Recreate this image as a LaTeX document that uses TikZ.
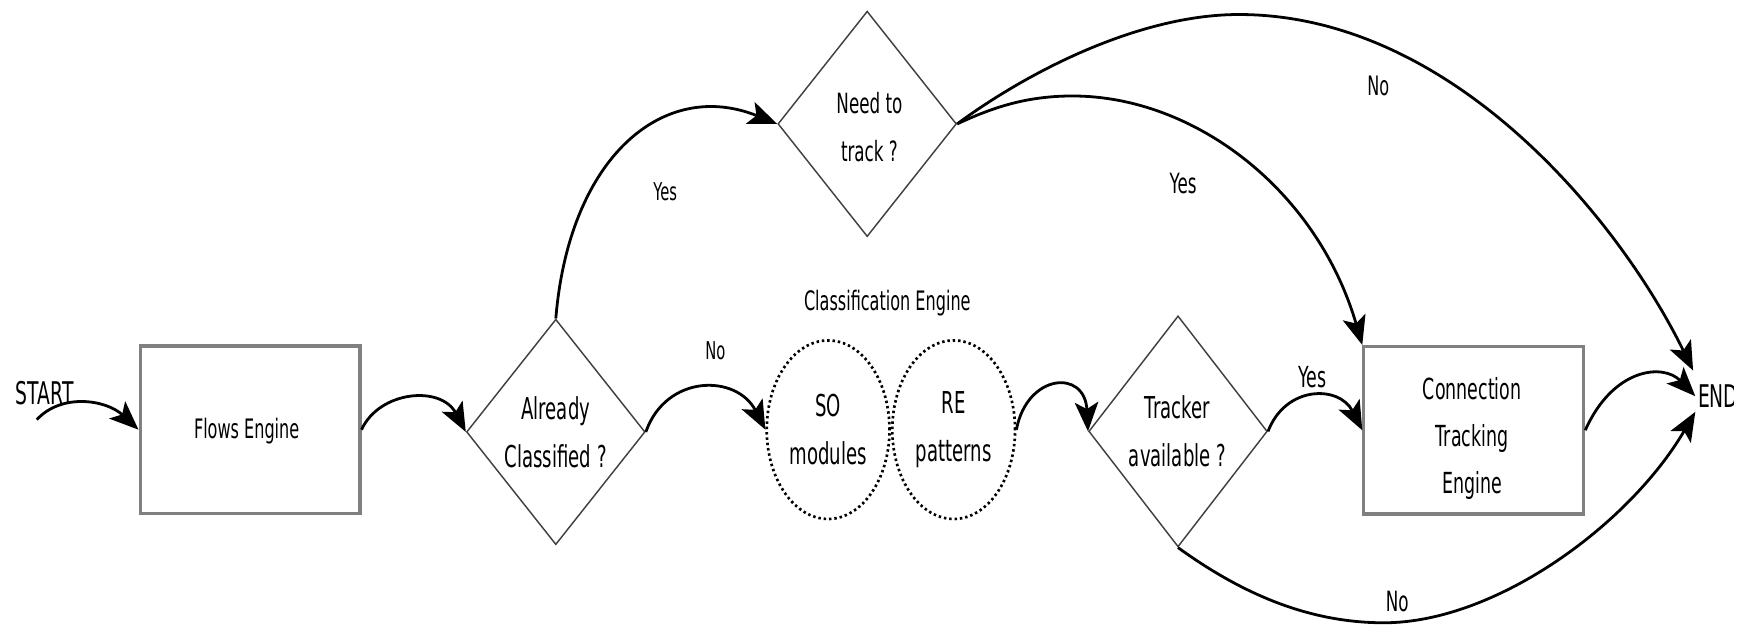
\documentclass[tikz,border=0pt]{standalone}
\usepackage{fontspec}
\setmainfont{DejaVu Sans}[FakeStretch=0.6]
\usetikzlibrary{shapes.geometric,arrows.meta}

\begin{document}
\begin{tikzpicture}[x=0.5pt,y=-0.5pt,
  box/.style={draw=black!50, line width=1.4pt, fill=white,
    minimum width=98.5pt, minimum height=75pt, inner sep=0pt},
  decision/.style={diamond, aspect=0.8, draw=black!75, line width=0.65pt,
    minimum width=80pt, minimum height=101pt, inner sep=0pt},
  module/.style={ellipse, draw=black, line width=1.2pt,
    dash pattern=on 1.1pt off 1.3pt,
    minimum width=55pt, minimum height=80pt, inner sep=0pt},
  txt/.style={align=center, inner sep=0pt, font=\fontsize{13.5}{21.5}\selectfont},
  lbl/.style={inner sep=0pt},
  flow/.style={line width=1.25pt, -{Stealth[length=13pt,width=10.5pt,inset=3pt]}},
]
\useasboundingbox (0,0) rectangle (1568,563);

% ---- blocks ----
\node[box] (flows) at (224,385) {};
\node[txt, font=\fontsize{12}{14}\selectfont] (flows-t) at (221,386) {Flows Engine};

\node[decision] (already) at (498,387) {};
\node[txt] (already-t) at (498,387) {Already\\Classified ?};

\node[decision, minimum height=101pt] (need) at (777,111) {};
\node[txt, font=\fontsize{12.5}{21.5}\selectfont] (need-t) at (779,114) {Need to\\track ?};

\node[txt, font=\fontsize{12}{14}\selectfont] (class-t) at (795,272) {Classification Engine};
\node[module, txt] (so) at (742,385) {SO\\modules};
\node[module, txt] (re) at (854.5,385) {RE\\patterns};

\node[decision, minimum height=103.5pt] (tracker) at (1055.5,386.5) {};
\node[txt] (tracker-t) at (1055,386) {Tracker\\available ?};

\node[box] (conn) at (1320.5,385.5) {};
\node[txt, font=\fontsize{13}{21}\selectfont] (conn-t) at (1319,393) {Connection\\Tracking\\Engine};

% ---- terminals ----
\node[lbl, font=\fontsize{14}{16}\selectfont] (start) at (40,352) {START};
\coordinate (start-tail) at (33,376);
\begin{scope}
  \clip (1400,300) rectangle (1553,400);
  \node[lbl, inner sep=1pt, anchor=west, font=\fontsize{14}{16}\selectfont] (end) at (1519,355) {END};
\end{scope}
\coordinate (end-top) at (1517,332);
\coordinate (end-bottom) at (1519,369);

% ---- branch labels ----
\node[lbl, font=\fontsize{11}{13}\selectfont] (no-class) at (641,314) {No};
\node[lbl, font=\fontsize{11}{13}\selectfont] (yes-class) at (596,172) {Yes};
\node[lbl, font=\fontsize{12}{14}\selectfont] (no-track) at (1235,77) {No};
\node[lbl, font=\fontsize{12.5}{14}\selectfont] (yes-track) at (1060,164) {Yes};
\node[lbl, font=\fontsize{13}{15}\selectfont] (yes-avail) at (1176,338) {Yes};
\node[lbl, font=\fontsize{12.5}{14}\selectfont] (no-avail) at (1252,539) {No};

% ---- connectors ----
\draw[flow] (start-tail) .. controls (55,352) and (95,358) .. (flows.west);
\draw[flow] (flows.east) .. controls (340,350) and (395,345) .. (already.west);
\draw[flow] (already.east) .. controls (597,335) and (660,335) .. (so.west);
\draw[flow] (already.north) .. controls (510,140) and (595,70) .. (need.west);
\draw[flow] (re.east) .. controls (920,335) and (972,330) .. (tracker.west);
\draw[flow] (tracker.east) .. controls (1152,345) and (1200,345) .. (conn.west);
\draw[flow] (conn.east) .. controls (1445,330) and (1490,325) .. (end.west);
\draw[flow] (need.east) .. controls (890,96) and (920,86) .. (961,86)
  .. controls (1070,86) and (1180,170) .. (conn.north west);
\draw[flow] (need.east) .. controls (920,65) and (1020,13) .. (1110,13)
  .. controls (1300,13) and (1450,195) .. (end-top);
\draw[flow] (tracker.south) .. controls (1110,530) and (1170,558) .. (1240,558)
  .. controls (1340,558) and (1460,470) .. (end-bottom);
\end{tikzpicture}
\end{document}
